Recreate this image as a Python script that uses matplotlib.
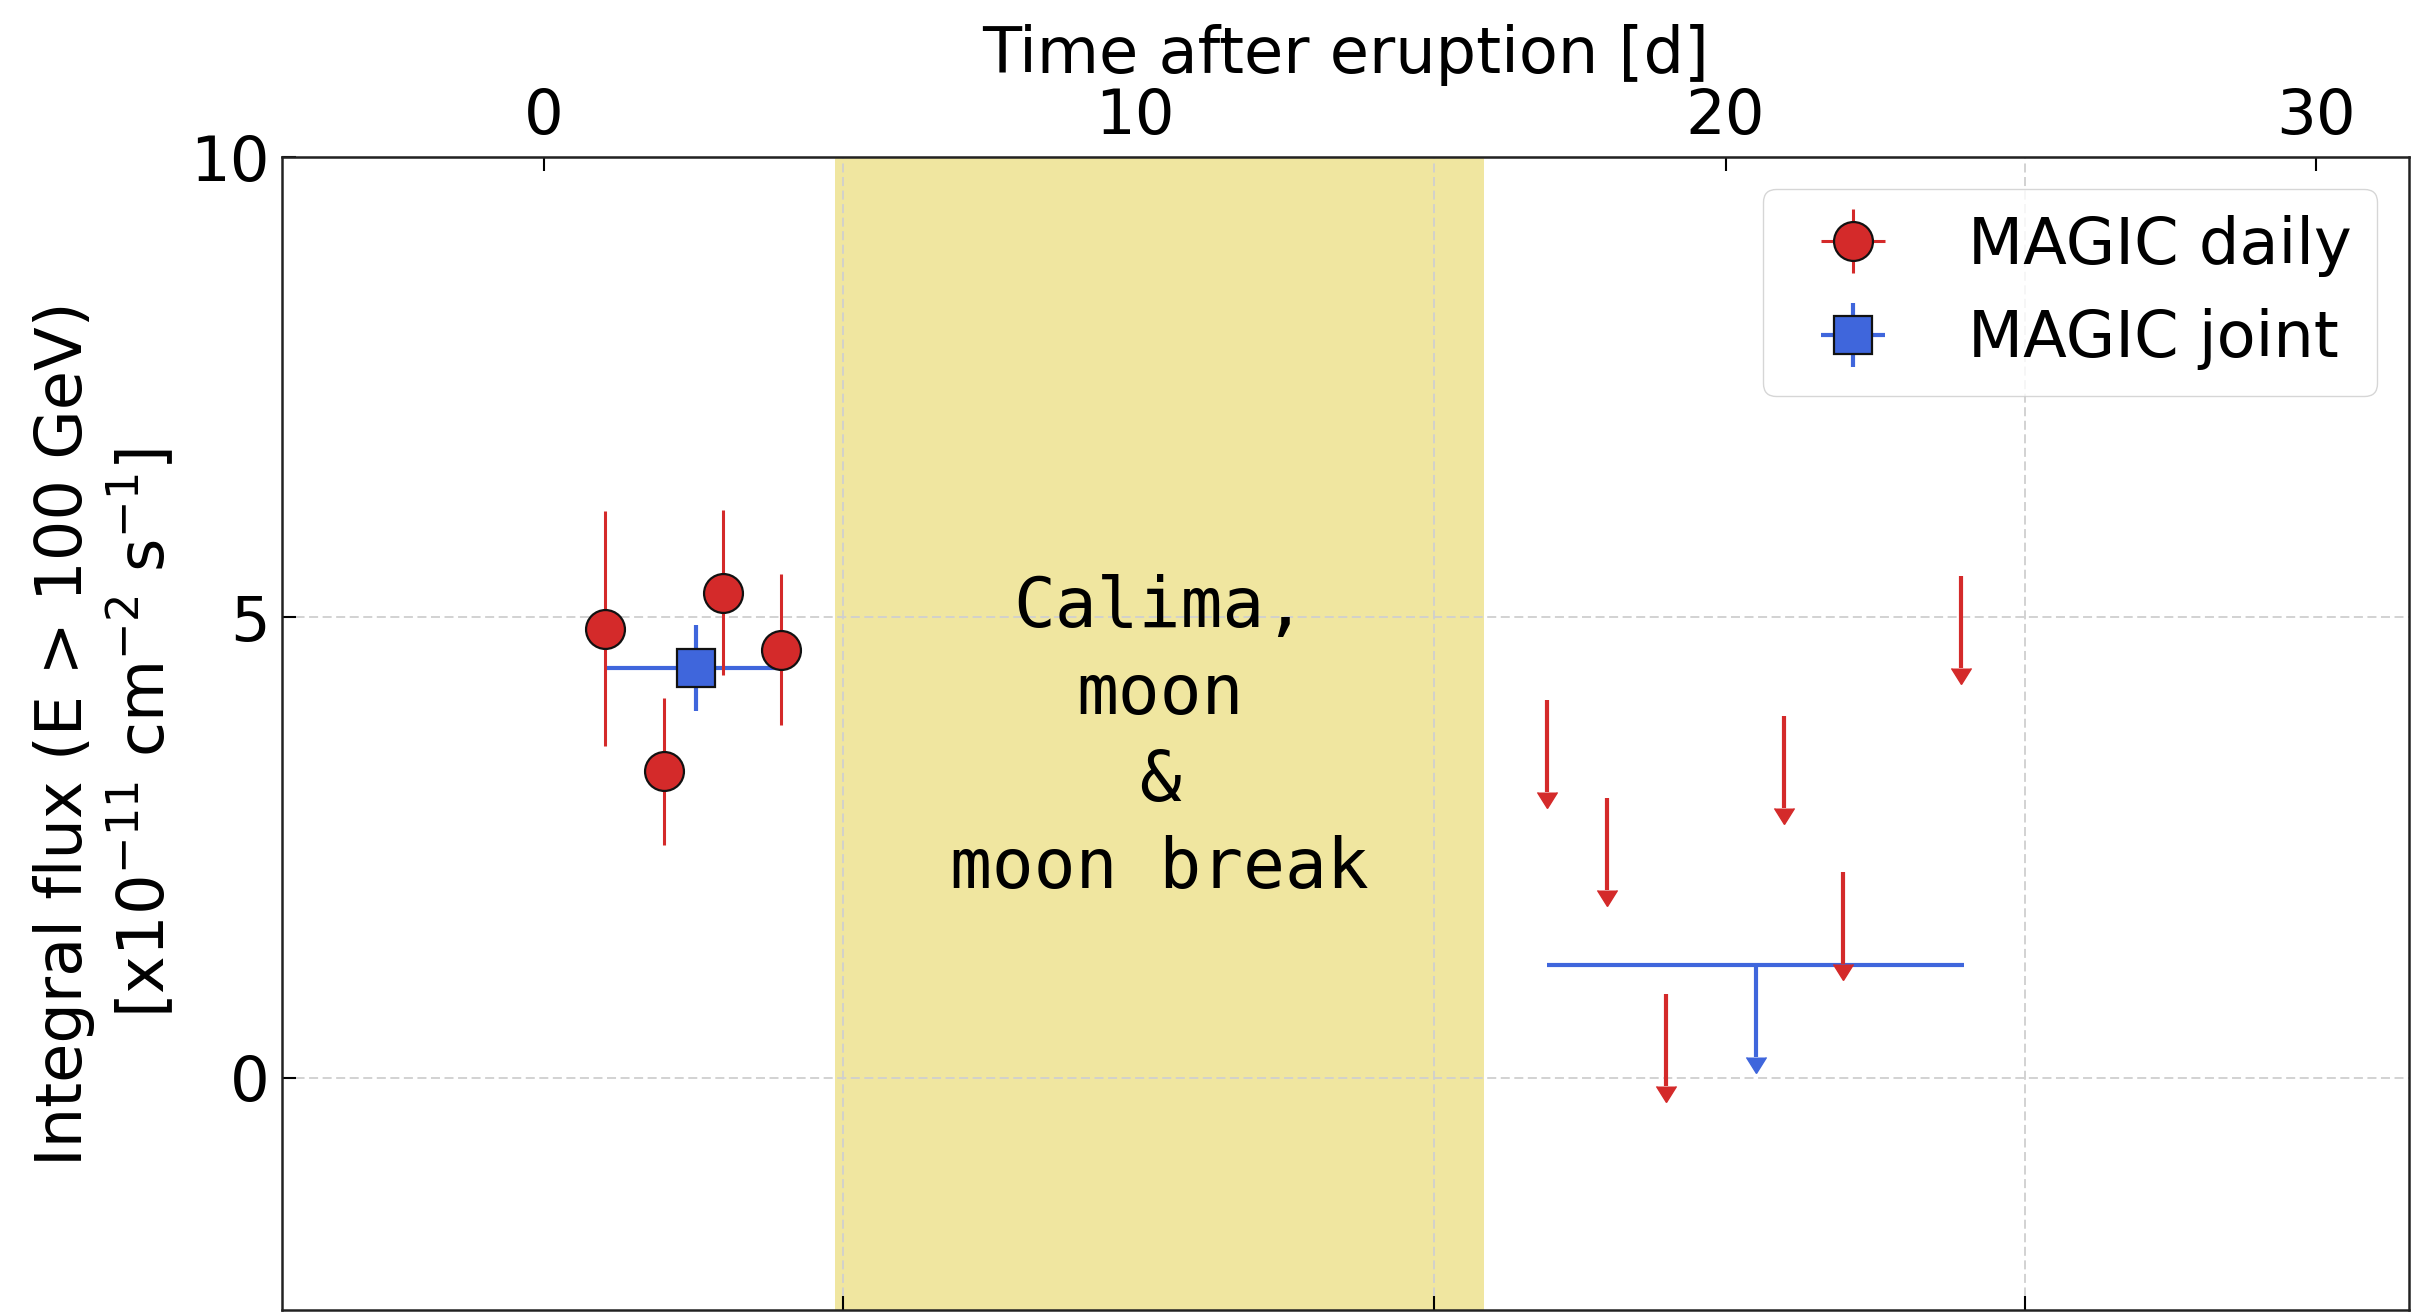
import matplotlib
matplotlib.use("Agg")
import matplotlib.pyplot as plt
import numpy as np

# ---- data (time after eruption [d], flux [1e-11 cm^-2 s^-1]) ----
daily_t = [1.03, 2.03, 3.03, 4.02]
daily_flux = [4.88, 3.33, 5.27, 4.65]
daily_ferr = [1.28, 0.80, 0.90, 0.82]
daily_terr = [0.1, 0.1, 0.1, 0.1]

joint_t = [2.58]
joint_flux = [4.45]
joint_ferr = [0.47]
joint_terr_lo = [1.55]
joint_terr_hi = [1.44]

ul_t = [16.98, 17.99, 18.99, 20.99, 21.98, 23.99]
ul_flux = [4.10, 3.04, 0.91, 3.93, 2.24, 5.45]
ul_arrow = [1.0, 1.0, 1.0, 1.0, 1.0, 1.0]

joint_ul_t = [20.51]
joint_ul_flux = [1.23]
joint_ul_terr = [3.53]
joint_ul_arrow = [1.0]

gap_span = [4.93, 15.92]
gap_text = "Calima,\nmoon\n&\nmoon break"
grid_t = [5.07, 15.07, 25.07]
top_ticks = [0, 10, 20, 30]
y_ticks = [0, 5, 10]

RED = "#d42a2a"
BLUE = "#3f66dc"

plt.rcParams["font.family"] = ["DejaVu Sans"]
fig = plt.figure(figsize=(24.34, 13.15), dpi=100)
ax = fig.add_axes([0.1159, 0.0038, 0.8739, 0.8768])
ax.set_xlim(-4.43, 31.57)
ax.set_ylim(-2.52, 10)

ax.axvspan(gap_span[0], gap_span[1], color="#f0e6a0", zorder=1, lw=0)
ax.text(np.mean(gap_span), 3.69, gap_text, ha="center", va="center",
        family="DejaVu Sans Mono", fontsize=50, linespacing=1.38, zorder=5)

# joint left
jc = ax.errorbar(joint_t, joint_flux, yerr=joint_ferr,
                 xerr=[joint_terr_lo, joint_terr_hi], fmt="s", color=BLUE,
                 ms=27, mfc=BLUE, mec="#111111", mew=1.6, elinewidth=3,
                 capsize=0, zorder=3)
# daily
dc = ax.errorbar(daily_t, daily_flux, yerr=daily_ferr, xerr=daily_terr,
                 fmt="o", color=RED, ms=28, mfc=RED, mec="#111111", mew=1.6,
                 elinewidth=2.2, capsize=0, zorder=4)

with plt.rc_context({"lines.markersize": 15}):
    # joint UL
    ax.errorbar(joint_ul_t, joint_ul_flux, xerr=joint_ul_terr, fmt="none",
                color=BLUE, ecolor=BLUE, elinewidth=3, capsize=0, zorder=3)
    ax.errorbar(joint_ul_t, joint_ul_flux, yerr=joint_ul_arrow, uplims=True,
                fmt="none", color=BLUE, ecolor=BLUE, elinewidth=3, capsize=0,
                zorder=3)
    # daily ULs
    ax.errorbar(ul_t, ul_flux, yerr=ul_arrow, uplims=True, fmt="none",
                color=RED, ecolor=RED, elinewidth=3, capsize=0, zorder=4)

# grid and ticks
ax.set_xticks(grid_t)
ax.set_yticks(y_ticks)
ax.grid(True, color="#cfcfcf", linestyle=(0, (5, 2.5)), lw=1.3)
ax.tick_params(axis="x", direction="in", length=10, width=1.5,
               labelbottom=False)
ax.tick_params(axis="y", direction="in", length=10, width=1.5,
               labelsize=45, pad=9)
for s in ax.spines.values():
    s.set_linewidth(1.8)
    s.set_color("#222222")

top = ax.secondary_xaxis("top")
top.set_xticks(top_ticks)
top.tick_params(direction="in", length=10, width=1.5, labelsize=45, pad=7.5)
top.set_xlabel("Time after eruption [d]", fontsize=46, labelpad=10)

ax.set_ylabel("Integral flux (E > 100 GeV)\n"
              r"[x10$^{-11}$ cm$^{-2}$ s$^{-1}$]", fontsize=46, labelpad=9)

ax.legend([dc, jc], ["MAGIC daily", "MAGIC joint"], loc="upper right",
          fontsize=46)

fig.savefig("out.png", dpi=100)
